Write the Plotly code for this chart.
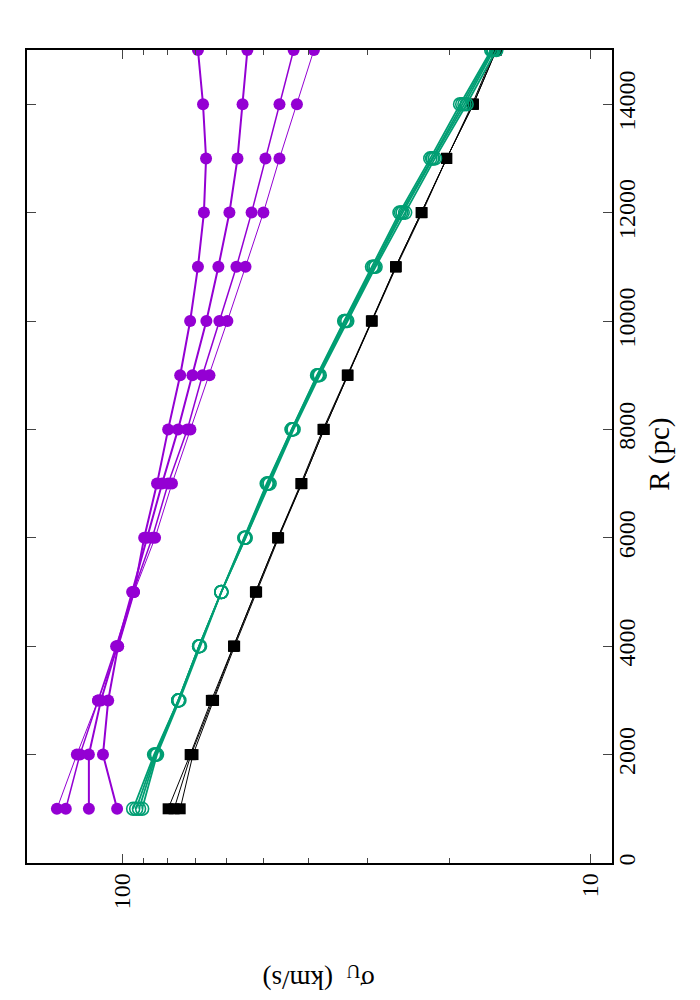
import plotly.graph_objects as go

# radius (pc)
R = [1000, 2000, 3000, 4000, 5000, 6000, 7000, 8000,
     9000, 10000, 11000, 12000, 13000, 14000, 15000]

# sigma_U (km/s), purple runs
purple_a = [102.7, 110.1, 107.3, 102.2, 94.5, 89.9, 84.4, 79.9, 75.3, 71.7, 69.0, 67.0, 66.3, 67.3, 69.0]
purple_b = [118.0, 118.0, 111.2, 102.7, 95.4, 88.6, 82.3, 76.1, 70.9, 66.2, 62.4, 59.1, 56.8, 55.4, 54.1]
purple_c = [132.2, 123.3, 112.8, 103.2, 94.9, 86.4, 79.9, 72.7, 67.5, 62.1, 57.1, 53.0, 49.5, 46.2, 43.1]
purple_d = [138.1, 125.2, 112.8, 102.2, 94.5, 85.2, 78.4, 71.6, 65.2, 59.7, 54.6, 50.0, 46.2, 42.4, 39.0]

# green runs
green_a = [94.9, 85.6, 76.0, 68.6, 61.5, 54.9, 49.2, 43.5, 38.4, 33.6, 29.3, 25.6, 22.0, 19.0, 16.3]
green_b = [93.5, 85.2, 76.0, 68.6, 61.5, 54.9, 49.0, 43.5, 38.3, 33.5, 29.1, 25.4, 21.8, 18.8, 16.2]
green_c = [92.2, 84.8, 76.0, 68.6, 61.5, 54.6, 48.8, 43.3, 38.1, 33.3, 29.0, 25.2, 21.7, 18.6, 16.1]
green_d = [90.8, 84.4, 75.6, 68.3, 61.5, 54.6, 48.5, 43.1, 37.9, 33.1, 28.8, 24.9, 21.5, 18.4, 15.9]

# black runs
black_a = [79.9, 71.7, 64.6, 57.9, 52.0, 46.6, 41.6, 37.3, 33.1, 29.4, 26.1, 23.0, 20.3, 17.9, 16.0]
black_b = [77.6, 71.4, 64.2, 57.9, 52.0, 46.6, 41.4, 37.1, 33.0, 29.3, 26.1, 23.0, 20.3, 17.8, 15.9]
black_c = [75.3, 70.7, 63.9, 57.6, 51.7, 46.4, 41.4, 37.1, 33.0, 29.3, 26.0, 22.9, 20.3, 17.8, 15.9]

r_ticks = [0, 2000, 4000, 6000, 8000, 10000, 12000, 14000]
sigma_ticks = [10, 100]
sigma_minor = [20, 30, 40, 50, 60, 70, 80, 90]

PURPLE = "#9400D3"
GREEN = "#009E73"
BLACK = "#000000"
FONT = "Liberation Serif, Times New Roman, serif"

fig = go.Figure()

for ys in [black_a, black_b, black_c]:
    fig.add_trace(go.Scatter(
        x=ys, y=R, mode="lines+markers",
        line=dict(color=BLACK, width=1),
        marker=dict(symbol="square", size=11, color=BLACK),
    ))

for ys in [green_a, green_b, green_c, green_d]:
    fig.add_trace(go.Scatter(
        x=ys, y=R, mode="lines+markers",
        line=dict(color=GREEN, width=1.8),
        marker=dict(symbol="circle-open", size=13, color=GREEN, line=dict(width=1.6)),
    ))

for ys, w in [(purple_d, 1), (purple_c, 1.5), (purple_b, 2), (purple_a, 2)]:
    fig.add_trace(go.Scatter(
        x=ys, y=R, mode="lines+markers",
        line=dict(color=PURPLE, width=w),
        marker=dict(symbol="circle", size=12, color=PURPLE),
    ))

# page body adds 8px, so margins are shifted to keep the frame in place
fig.update_layout(
    width=700, height=1000,
    margin=dict(l=19, r=96, t=42, b=145),
    plot_bgcolor="white", paper_bgcolor="white",
    showlegend=False,
    font=dict(family=FONT, size=24, color="black"),
    annotations=[
        dict(text="R (pc)", xref="paper", yref="paper", x=1.08, y=0.503,
             xanchor="center", yanchor="middle",
             showarrow=False, textangle=-90, font=dict(size=29)),
        dict(text="σ<sub>U</sub>  (km/s)", xref="paper", yref="paper", x=0.499, y=-0.1415,
             xanchor="center", yanchor="middle",
             showarrow=False, textangle=180, font=dict(size=27)),
    ],
)

fig.update_xaxes(
    type="log", range=[2.2041, 0.9542], automargin=False,
    tickvals=sigma_ticks, ticktext=[str(v) for v in sigma_ticks],
    tickangle=-90, ticks="inside", ticklen=9, tickwidth=1,
    minor=dict(tickvals=sigma_minor, ticks="inside", ticklen=5, tickwidth=1),
    showline=True, linecolor="black", linewidth=1.5, mirror="ticks",
    showgrid=False, zeroline=False, ticklabelstandoff=-1,
)
fig.update_yaxes(
    range=[0, 15000], side="right", automargin=False,
    tickvals=r_ticks, ticktext=[str(v) for v in r_ticks],
    tickangle=-90, ticks="inside", ticklen=9, tickwidth=1,
    showline=True, linecolor="black", linewidth=1.5, mirror="ticks",
    showgrid=False, zeroline=False, ticklabelstandoff=-8,
)

fig.write_html("out.html")
